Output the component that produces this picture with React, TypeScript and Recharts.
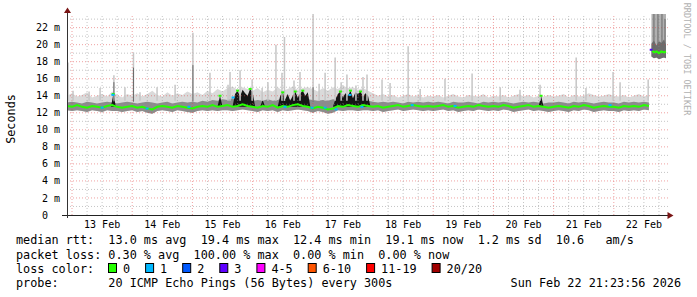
import { ComposedChart, Area, Line, Scatter, ErrorBar, XAxis, YAxis, ReferenceLine } from 'recharts';

const MONO = "'DejaVu Sans Mono', monospace";

// hours since 13 Feb 00:00
const DAY_TICKS = [12, 36, 60, 84, 108, 132, 156, 180, 204, 228];
const DAY_LABELS = ['13 Feb', '14 Feb', '15 Feb', '16 Feb', '17 Feb', '18 Feb', '19 Feb', '20 Feb', '21 Feb', '22 Feb'];
const Y_TICKS = [0, 2, 4, 6, 8, 10, 12, 14, 16, 18, 20, 22];

// 2-hourly samples, t = -2 .. 230
const GRID_T = Array.from({ length: 117 }, (_, i) => -2 + 2 * i);

const MED = [
  12.8,
  12.7, 12.9, 12.7, 12.6, 12.8, 12.7, 12.6, 12.8, 12.9, 12.7, 12.6, 12.7,
  12.8, 12.6, 12.7, 12.5, 12.4, 12.7, 12.8, 12.7, 12.6, 12.8, 12.7, 12.6,
  12.5, 12.7, 12.8, 12.7, 12.9, 12.7, 12.8, 12.9, 12.7, 12.8, 13.0, 12.8,
  12.7, 12.6, 12.8, 12.7, 12.9, 12.6, 12.8, 12.7, 12.9, 13.0, 12.8, 12.7,
  12.5, 12.7, 12.6, 12.4, 12.5, 12.8, 12.7, 12.9, 12.8, 12.7, 12.9, 12.8,
  12.7, 12.8, 12.6, 12.7, 12.8, 12.9, 12.7, 12.8, 12.9, 12.8, 12.7, 12.8,
  12.7, 12.8, 12.9, 12.7, 12.8, 12.6, 12.7, 12.8, 12.7, 12.9, 12.8, 12.7,
  12.8, 12.7, 12.9, 12.8, 12.6, 12.7, 12.8, 12.9, 12.7, 12.8, 12.7, 12.6,
  12.7, 12.8, 12.7, 12.6, 12.8, 12.7, 12.9, 12.8, 12.6, 12.7, 12.8, 12.7,
  12.7, 12.6, 12.8, 12.7, 12.8, 12.7, 12.9, 12.8,
];

const LO = [
  12.3,
  12.2, 12.3, 12.2, 12.1, 12.3, 12.2, 12.1, 12.3, 12.2, 12.2, 12.1, 12.2,
  12.3, 12.1, 12.2, 12.0, 11.9, 12.2, 12.3, 12.2, 12.1, 12.3, 12.2, 12.1,
  12.0, 12.2, 12.3, 12.2, 12.3, 12.2, 12.3, 12.3, 12.2, 12.3, 12.4, 12.3,
  12.2, 12.1, 12.3, 12.2, 12.3, 12.1, 12.3, 12.2, 12.3, 12.4, 12.3, 12.2,
  12.0, 12.2, 12.1, 11.9, 12.0, 12.3, 12.2, 12.3, 12.3, 12.2, 12.3, 12.3,
  12.2, 12.3, 12.1, 12.2, 12.3, 12.4, 12.2, 12.3, 12.4, 12.3, 12.2, 12.3,
  12.2, 12.3, 12.4, 12.2, 12.3, 12.1, 12.2, 12.3, 12.2, 12.4, 12.3, 12.2,
  12.3, 12.2, 12.4, 12.3, 12.1, 12.2, 12.3, 12.4, 12.2, 12.3, 12.2, 12.1,
  12.2, 12.3, 12.2, 12.1, 12.3, 12.2, 12.4, 12.3, 12.1, 12.2, 12.3, 12.2,
  12.2, 12.1, 12.3, 12.2, 12.3, 12.2, 12.4, 12.3,
];

const MID = [
  13.2,
  13.3, 13.2, 13.1, 13.3, 13.2, 13.1, 13.2, 13.3, 13.2, 13.1, 13.2, 13.3,
  13.2, 13.1, 13.2, 13.3, 13.2, 13.1, 13.2, 13.3, 13.1, 13.2, 13.3, 13.2,
  13.3, 13.2, 13.4, 13.3, 13.5, 13.4, 13.6, 13.5, 13.7, 13.5, 13.6, 13.5,
  13.4, 13.5, 13.4, 13.6, 13.4, 13.5, 13.7, 13.5, 13.6, 13.7, 13.5, 13.6,
  13.5, 13.4, 13.5, 13.4, 13.6, 13.5, 13.7, 13.6, 13.5, 13.7, 13.6, 13.4,
  13.3, 13.2, 13.3, 13.2, 13.3, 13.2, 13.1, 13.3, 13.2, 13.3, 13.2, 13.3,
  13.2, 13.3, 13.2, 13.1, 13.3, 13.2, 13.2, 13.3, 13.2, 13.1, 13.3, 13.2,
  13.3, 13.2, 13.3, 13.2, 13.1, 13.2, 13.3, 13.2, 13.3, 13.2, 13.1, 13.2,
  13.2, 13.3, 13.2, 13.1, 13.3, 13.2, 13.3, 13.2, 13.1, 13.2, 13.3, 13.2,
  13.2, 13.1, 13.3, 13.2, 13.3, 13.2, 13.3, 13.2,
];

const HI = [
  14.0,
  14.3, 13.9, 14.1, 14.4, 13.8, 14.0, 14.2, 13.9, 14.5, 14.1, 13.8, 14.2,
  14.0, 14.3, 13.9, 14.2, 14.6, 14.1, 13.9, 14.4, 14.0, 14.3, 14.1, 14.5,
  14.2, 14.4, 14.1, 14.6, 14.3, 14.8, 14.5, 14.9, 15.1, 14.7, 15.0, 14.8,
  14.6, 14.9, 14.4, 14.7, 14.5, 15.0, 14.6, 14.8, 15.1, 14.7, 14.9, 15.0,
  14.8, 14.5, 14.9, 14.6, 15.0, 14.8, 15.2, 14.9, 15.0, 14.7, 14.9, 14.6,
  14.3, 14.0, 14.2, 13.9, 14.1, 13.8, 14.0, 14.2, 13.9, 14.1, 13.8, 14.0,
  13.9, 14.1, 13.8, 14.0, 14.2, 13.9, 13.8, 14.1, 14.0, 13.9, 14.2, 13.8,
  14.0, 13.9, 14.1, 13.8, 14.0, 14.2, 13.9, 14.1, 13.8, 14.0, 13.9, 14.1,
  13.9, 14.0, 14.2, 13.8, 14.1, 13.9, 14.0, 14.3, 14.1, 13.9, 14.0, 14.2,
  14.0, 13.9, 14.1, 13.8, 14.0, 14.2, 13.9, 14.1,
];

// dense (black) smoke: [t, low, high]
const BLACK: [number, number, number][] = [
  [15.5, 12.7, 12.7], [16.5, 12.7, 14.2], [17.5, 12.7, 12.7],
  [58, 12.7, 12.7], [59, 12.7, 14.0], [60, 12.7, 12.7],
  [64, 12.7, 12.7], [65, 12.7, 14.2], [66, 12.7, 14.6], [67, 12.7, 13.9], [68, 12.7, 14.7],
  [69, 12.7, 14.3], [70, 12.7, 14.0], [71, 12.7, 14.8], [72, 12.7, 14.4], [73, 12.7, 12.7],
  [75, 12.7, 12.7], [76, 12.7, 13.5], [77, 12.7, 12.7],
  [82, 12.7, 12.7], [83, 12.7, 14.0], [84, 12.7, 14.4], [85, 12.7, 13.6], [86, 12.7, 14.2],
  [87, 12.7, 13.4], [88, 12.7, 14.0], [89, 12.7, 14.5], [90, 12.7, 13.8], [91, 12.7, 14.3],
  [92, 12.7, 14.6], [93, 12.7, 14.0], [94, 12.7, 14.4], [95, 12.7, 12.7],
  [104, 12.7, 12.7], [105, 12.7, 13.6], [106, 12.7, 14.2], [107, 12.7, 14.5], [108, 12.7, 13.8],
  [109, 12.7, 14.3], [110, 12.7, 14.0], [111, 12.7, 14.6], [112, 12.7, 13.7], [113, 12.7, 14.4],
  [114, 12.7, 14.2], [115, 12.7, 14.5], [116, 12.7, 13.9], [117, 12.7, 14.3], [118, 12.7, 14.0],
  [119, 12.7, 12.7],
  [186, 12.7, 12.7], [187, 12.7, 14.0], [188, 12.7, 12.7],
];

// single-sample smoke spikes: [t, low, high]
const SPIKES: [number, number, number][] = [
  [-1.6, 13.4, 17.9], [0.4, 13.4, 14.6], [6.8, 13.4, 14.5], [11.2, 13.4, 14.9], [16.7, 13.4, 16.4],
  [21.1, 13.4, 15.0], [24.5, 13.4, 19.1], [27.1, 13.4, 14.4], [33.9, 13.4, 15.0], [41.1, 13.4, 15.3],
  [48.2, 13.4, 21.4], [55.0, 13.4, 16.7], [62.2, 13.4, 15.3], [63.0, 13.4, 16.8], [67.0, 13.4, 17.0],
  [71.8, 13.4, 15.9], [75.8, 13.4, 14.9], [78.1, 13.4, 15.6], [81.3, 13.4, 20.0], [83.7, 13.4, 16.7],
  [84.7, 13.4, 20.9], [88.5, 13.4, 15.8], [90.9, 13.4, 16.8], [96.1, 13.4, 23.6], [98.5, 13.4, 15.4],
  [100.9, 13.4, 16.7], [104.9, 13.4, 18.5], [107.3, 13.4, 15.6], [109.6, 13.4, 16.5], [113.2, 13.4, 15.2],
  [116.0, 13.4, 16.2], [117.6, 13.4, 16.5], [123.6, 13.4, 15.9], [126.8, 13.4, 15.5], [134.0, 13.4, 19.8],
  [138.8, 13.4, 14.8], [148.7, 13.4, 16.0], [159.5, 13.4, 16.6], [170.7, 13.4, 15.0], [178.6, 13.4, 14.7],
  [186.6, 13.4, 15.3], [201.0, 13.4, 18.5], [204.9, 13.4, 14.9], [215.7, 13.4, 16.8], [218.5, 13.4, 15.6],
  [229.7, 13.4, 15.9],
];

const DARK_SPIKES: [number, number, number][] = [
  [16.7, 13.3, 15.6], [24.5, 13.3, 17.3], [48.2, 13.3, 17.6], [96.1, 13.3, 15.0],
  [232, 19.6, 23.6], [233.6, 20.0, 23.6], [235.2, 19.8, 23.6], [236.4, 20.0, 23.0],
];

// last hours after the jump
const TAIL_T = [231, 232, 233, 234, 235, 236, 236.8];
const TAIL_MED = [19.4, 19.1, 19.2, 19.0, 19.2, 19.1, 19.2];
const TAIL_LO = [18.6, 18.4, 18.5, 18.3, 18.4, 18.5, 18.4];
const TAIL_MID = [20.1, 20.5, 19.9, 20.4, 20.2, 20.6, 20.0];
const TAIL_HI = [23.6, 23.6, 23.6, 23.6, 23.6, 23.6, 23.6];

// median samples on top of dense smoke
const MED_PEAKS: [number, number][] = [
  [16.4, 14.2], [59, 14.0], [66, 14.6], [71, 14.8], [84, 14.4], [89, 14.5],
  [92, 14.6], [107, 14.5], [111, 14.6], [115, 14.5], [187, 14.0],
];

// samples with packet loss: [t, median, lost pings]
const LOSS: [number, number, number][] = [
  [12, 12.6, 1], [16.3, 14.1, 1], [29.9, 12.5, 1], [46.6, 12.7, 1], [64.2, 13.8, 1],
  [84.9, 12.7, 1], [95.7, 12.6, 1], [100.9, 12.6, 1], [105.3, 12.4, 1], [110.8, 14.1, 1],
  [115.6, 12.7, 1], [135.6, 12.9, 1], [152.7, 12.8, 1], [214.5, 12.9, 1], [230.9, 19.4, 3],
];

const LOSS_LEGEND: [string, string][] = [
  ['0', '#26ff00'], ['1', '#00b8ff'], ['2', '#0059ff'], ['3', '#5e00ff'],
  ['4-5', '#ff00ff'], ['6-10', '#ff5500'], ['11-19', '#ff0000'], ['20/20', '#a00000'],
];
const LOSS_COLOR: Record<number, string> = { 1: '#00b8ff', 2: '#0059ff', 3: '#5e00ff' };

const STAT_ROWS = [
  'median rtt:  13.0 ms avg  19.4 ms max  12.4 ms min  19.1 ms now  1.2 ms sd  10.6   am/s',
  'packet loss: 0.30 % avg  100.00 % max  0.00 % min  0.00 % now',
];
const PROBE = 'probe:       20 ICMP Echo Pings (56 Bytes) every 300s';
const STAMP = 'Sun Feb 22 21:23:56 2026';

type Range = [number | null, number | null];
type Row = {
  t: number;
  med: number | null;
  band: Range;
  smoke: Range;
  black: Range;
  tmed: number | null;
  tband: Range;
  tsmoke: Range;
};

const byT = new Map<number, Row>();
const getRow = (t: number): Row => {
  let r = byT.get(t);
  if (!r) {
    r = { t, med: null, band: [null, null], smoke: [null, null], black: [null, null], tmed: null, tband: [null, null], tsmoke: [null, null] };
    byT.set(t, r);
  }
  return r;
};
GRID_T.forEach((t, i) => {
  const r = getRow(t);
  r.med = MED[i];
  r.band = [LO[i], MID[i]];
  r.smoke = [LO[i], HI[i]];
});
BLACK.forEach(([t, lo, hi]) => {
  getRow(t).black = [lo, hi];
});
TAIL_T.forEach((t, i) => {
  const r = getRow(t);
  r.tmed = TAIL_MED[i];
  r.tband = [TAIL_LO[i], TAIL_MID[i]];
  r.tsmoke = [TAIL_LO[i], TAIL_HI[i]];
});
const rows = [...byT.values()].sort((a, b) => a.t - b.t);

const spikeData = SPIKES.map(([t, lo, hi]) => ({ t, y: hi, err: [hi - lo, 0] }));
const darkSpikeData = DARK_SPIKES.map(([t, lo, hi]) => ({ t, y: hi, err: [hi - lo, 0] }));
const peakData = MED_PEAKS.map(([t, y]) => ({ t, y }));
const lossData = LOSS.map(([t, y, loss]) => ({ t, y, loss }));

const V_GRID = Array.from({ length: 40 }, (_, i) => i * 6);
const H_GRID = Array.from({ length: 23 }, (_, i) => i + 1);

const noShape = () => <g />;

export default function App() {
  const tickStyle = { fill: '#000', fontSize: 10, fontFamily: MONO };
  let boxX = 108;
  const boxes = LOSS_LEGEND.map(([label, color]) => {
    const x = boxX;
    boxX += 15 + label.length * 7.1 + 15;
    return (
      <g key={label}>
        <rect x={x + 0.5} y={263.5} width={8} height={9} fill={color} stroke="#000" />
        <text x={x + 15} y={273} style={{ whiteSpace: 'pre' }}>{label}</text>
      </g>
    );
  });

  return (
    <div style={{ position: 'absolute', left: 0, top: 0, width: 697, height: 297, background: '#fff' }}>
      <ComposedChart width={697} height={297} data={rows} margin={{ top: 14, right: 28, bottom: 62, left: 0 }}>
        <XAxis
          dataKey="t"
          type="number"
          domain={[-2, 238]}
          allowDataOverflow
          ticks={DAY_TICKS}
          interval={0}
          tickFormatter={(v: number) => DAY_LABELS[DAY_TICKS.indexOf(v)]}
          tickLine={false}
          axisLine={false}
          tickSize={4}
          height={20}
          tick={tickStyle}
        />
        <YAxis
          type="number"
          domain={[0, 23.6]}
          allowDataOverflow
          ticks={Y_TICKS}
          interval={0}
          tickFormatter={(v: number) => (v === 0 ? '0\u00a0\u00a0' : `${v} m`)}
          tickLine={false}
          axisLine={false}
          tickSize={5}
          width={67}
          tick={tickStyle}
        />
        {H_GRID.map((v) => (
          <ReferenceLine key={`h${v}`} y={v} stroke={v % 2 === 0 ? 'rgba(225,70,70,0.5)' : 'rgba(140,140,140,0.5)'} strokeDasharray="1 2" />
        ))}
        {V_GRID.map((v) => (
          <ReferenceLine key={`v${v}`} x={v} stroke={v % 24 === 0 ? 'rgba(225,70,70,0.5)' : 'rgba(140,140,140,0.5)'} strokeDasharray="1 2" />
        ))}
        <Area dataKey="smoke" type="linear" fill="#dadada" fillOpacity={1} stroke="none" connectNulls isAnimationActive={false} dot={false} activeDot={false} />
        <Area dataKey="tsmoke" type="linear" fill="#b0b0b0" fillOpacity={1} stroke="none" isAnimationActive={false} dot={false} activeDot={false} />
        <Scatter data={spikeData} dataKey="y" shape={noShape} isAnimationActive={false}>
          <ErrorBar dataKey="err" direction="y" width={0} stroke="#c6c6c6" strokeWidth={1.5} />
        </Scatter>
        <Area dataKey="band" type="linear" fill="#8c8c8c" fillOpacity={1} stroke="none" connectNulls isAnimationActive={false} dot={false} activeDot={false} />
        <Area dataKey="tband" type="linear" fill="#6c6c6c" fillOpacity={1} stroke="none" isAnimationActive={false} dot={false} activeDot={false} />
        <Scatter data={darkSpikeData} dataKey="y" shape={noShape} isAnimationActive={false}>
          <ErrorBar dataKey="err" direction="y" width={0} stroke="#6a6a6a" strokeWidth={1} />
        </Scatter>
        <Area dataKey="black" type="linear" fill="#151515" fillOpacity={1} stroke="none" connectNulls isAnimationActive={false} dot={false} activeDot={false} />
        <Line dataKey="med" type="linear" stroke="#26ff00" strokeWidth={2} connectNulls dot={false} activeDot={false} isAnimationActive={false} />
        <Line dataKey="tmed" type="linear" stroke="#26ff00" strokeWidth={2} dot={false} activeDot={false} isAnimationActive={false} />
        <Scatter
          data={peakData}
          dataKey="y"
          isAnimationActive={false}
          shape={(p: any) => <rect x={p.cx - 1.5} y={p.cy - 1} width={3} height={2} fill="#26ff00" />}
        />
        <Scatter
          data={lossData}
          dataKey="y"
          isAnimationActive={false}
          shape={(p: any) => <rect x={p.cx - 1.5} y={p.cy - 1} width={3} height={2} fill={LOSS_COLOR[p.payload.loss]} />}
        />
      </ComposedChart>
      <svg width={697} height={297} style={{ position: 'absolute', left: 0, top: 0, pointerEvents: 'none' }}>
        <line x1={62} y1={215.5} x2={668} y2={215.5} stroke="#222" />
        <polygon points="673.5,215.5 667.5,212 667.5,219" fill="#7a1515" />
        <line x1={67.5} y1={218} x2={67.5} y2={12} stroke="#333" />
        <polygon points="67.5,7.5 64,13 71,13" fill="#7a1515" />
        <text transform="translate(15,119) rotate(-90)" textAnchor="middle" fontFamily={MONO} fontSize={11.8} fill="#000">
          Seconds
        </text>
        <text transform="translate(684,59) rotate(90)" textAnchor="middle" fontFamily={MONO} fontSize={8.5} fill="#b0b0b0">
          RRDTOOL / TOBI OETIKER
        </text>
        <g fontFamily={MONO} fontSize={11.8} fill="#000">
          <text x={16} y={244} style={{ whiteSpace: 'pre' }}>{STAT_ROWS[0]}</text>
          <text x={16} y={259} style={{ whiteSpace: 'pre' }}>{STAT_ROWS[1]}</text>
          <text x={16} y={273} style={{ whiteSpace: 'pre' }}>loss color:</text>
          {boxes}
          <text x={16} y={287} style={{ whiteSpace: 'pre' }}>{PROBE}</text>
          <text x={681} y={287} textAnchor="end" style={{ whiteSpace: 'pre' }}>{STAT_ROWS.length ? STAMP : ''}</text>
        </g>
      </svg>
    </div>
  );
}
